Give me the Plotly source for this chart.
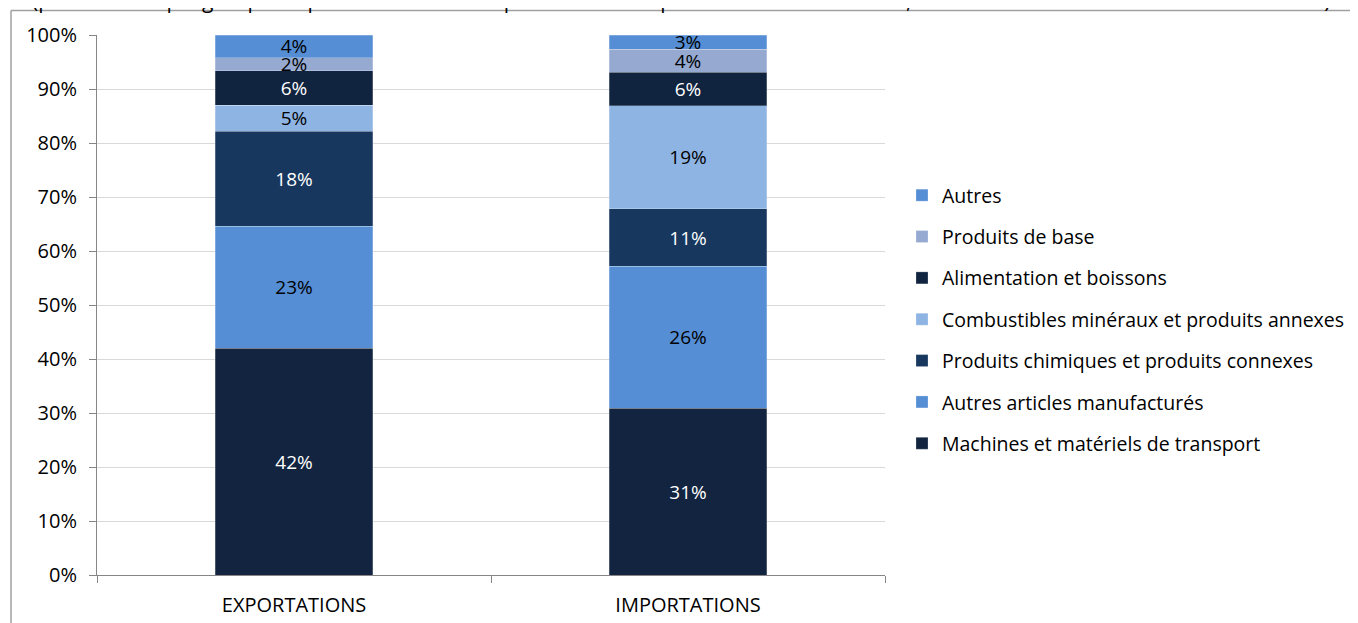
import plotly.graph_objects as go

categories = ["EXPORTATIONS", "IMPORTATIONS"]
series_names = [
    "Machines et matériels de transport",
    "Autres articles manufacturés",
    "Produits chimiques et produits connexes",
    "Combustibles minéraux et produits annexes",
    "Alimentation et boissons",
    "Produits de base",
    "Autres",
]
exportations = [42.0, 22.6, 17.6, 4.8, 6.4, 2.4, 4.2]
importations = [30.9, 26.3, 10.6, 19.1, 6.2, 4.3, 2.6]
colors = ["#12243F", "#558ED5", "#17375E", "#8EB4E3", "#10243F", "#95A9D1", "#558ED5"]
text_colors = ["white", "black", "white", "black", "white", "black", "black"]
y_ticks = [0, 10, 20, 30, 40, 50, 60, 70, 80, 90, 100]
y_tick_labels = [f"{v}%" for v in y_ticks]
title_text = ("(parts de chaque groupe de produits dans les exportations et importations totales "
              "de l'UE, basées sur la valeur en millions de dollars)")

FONT = "Open Sans, Lato, sans-serif"

fig = go.Figure()
for i, name in enumerate(series_names):
    vals = [exportations[i], importations[i]]
    fig.add_trace(go.Bar(
        x=categories, y=vals, name=name,
        marker=dict(color=colors[i], line=dict(color="rgba(255,255,255,0.3)", width=0.8)),
        text=[f"{round(v)}%" for v in vals],
        textposition="inside", insidetextanchor="middle",
        textfont=dict(family=FONT, size=19, color=text_colors[i]),
        constraintext="none",
        legendgroup=name, legendrank=1000 - i,
        hoverinfo="name+y",
    ))

W, H = 1358, 623
OFF = 8  # page body margin
PL, PR, PT, PB = 97, 885, 35, 575  # plot area in page pixels
L = PL - OFF
T = PT - OFF
R = W - (PR - OFF)
B = H - (PB - OFF)

def px_x(p):
    return (p - PL) / (PR - PL)

def px_y(p):
    return (PB - p) / (PB - PT)

fig.update_layout(
    width=W, height=H,
    margin=dict(l=L, r=R, t=T, b=B, autoexpand=False),
    barmode="stack", bargap=0.6,
    plot_bgcolor="white", paper_bgcolor="white",
    font=dict(family=FONT, size=18, color="#000000"),
    uniformtext=dict(minsize=10, mode="show"),
    legend=dict(
        x=px_x(902), xanchor="left", y=px_y(176), yanchor="top",
        traceorder="grouped", tracegroupgap=13,
        font=dict(family=FONT, size=19.5, color="#000000"),
        itemwidth=30, bgcolor="rgba(0,0,0,0)",
    ),
    xaxis=dict(
        showline=True, linecolor="#868686", linewidth=1,
        ticks="outside", tickson="boundaries", ticklen=7, tickcolor="#868686",
        tickfont=dict(family=FONT, size=20, color="#000000"),
        ticklabelstandoff=12,
        showgrid=False,
    ),
    yaxis=dict(
        range=[0, 100], tickvals=y_ticks, ticktext=y_tick_labels,
        showline=True, linecolor="#868686", linewidth=1,
        ticks="outside", ticklen=7, tickcolor="#868686",
        showgrid=True, gridcolor="#D9D9D9", gridwidth=1,
        tickfont=dict(family=FONT, size=20, color="#000000"),
        ticklabelstandoff=8,
        zeroline=False,
    ),
    shapes=[
        dict(type="line", xref="paper", yref="paper",
             x0=px_x(11), x1=px_x(11), y0=px_y(700), y1=px_y(10.5),
             line=dict(color="#A0A0A0", width=1.5), layer="below"),
        dict(type="line", xref="paper", yref="paper",
             x0=px_x(11), x1=px_x(1420), y0=px_y(10.5), y1=px_y(10.5),
             line=dict(color="#A0A0A0", width=1.5), layer="below"),
    ],
    annotations=[dict(
        text=title_text, xref="paper", yref="paper",
        x=px_x(681), y=px_y(0), xanchor="center", yanchor="middle",
        showarrow=False, font=dict(family=FONT, size=21, color="#000000"),
    )],
    showlegend=True,
)

fig.write_html("out.html")
